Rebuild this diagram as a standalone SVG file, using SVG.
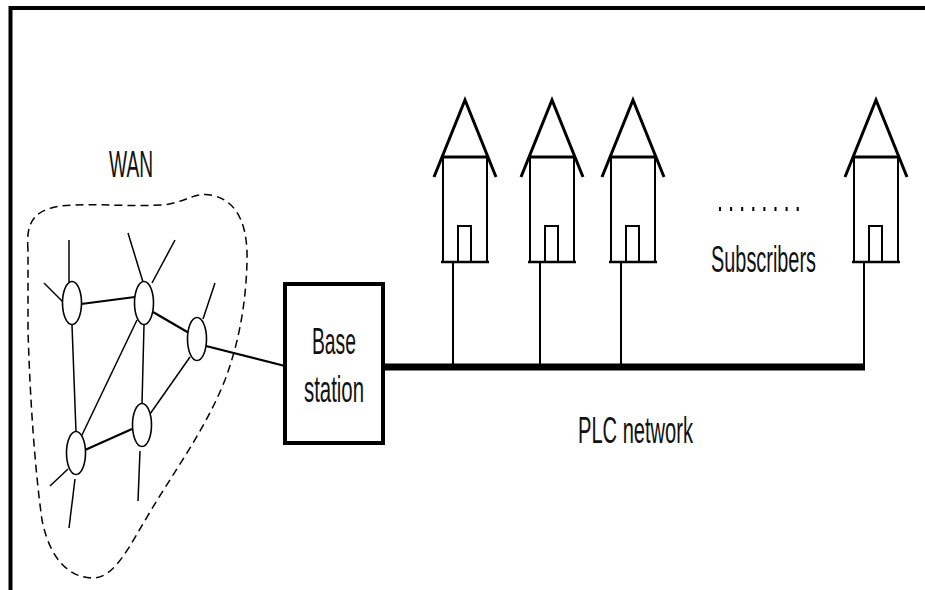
<svg xmlns="http://www.w3.org/2000/svg" width="925" height="590" viewBox="0 0 925 590">
<style>
.lbl{font-family:"Liberation Sans",Arial,sans-serif;font-size:37px;fill:#111}
.node{fill:#fff;stroke:#000;stroke-width:1.6}
.e{stroke:#000;stroke-width:1.5;fill:none}
.e2{stroke:#000;stroke-width:2.2;fill:none}
.roof{fill:none;stroke:#000;stroke-width:3;stroke-linejoin:miter}
.body{fill:none;stroke:#000;stroke-width:2}
</style>
<defs>
<g id="house">
<polyline class="roof" points="434,177 465,100 496,177"/>
<line x1="442" y1="157" x2="488" y2="157" stroke="#000" stroke-width="3"/>
<polyline class="body" points="443,157 443,262 487,262 487,157"/>
<line x1="441" y1="262" x2="489" y2="262" stroke="#000" stroke-width="2.5"/>
<polyline class="body" points="458,262 458,226 471,226 471,262"/>
<line x1="453" y1="262" x2="453" y2="367" stroke="#000" stroke-width="2"/>
</g>
</defs>
<rect width="925" height="590" fill="#fff"/>
<g id="frame">
<line x1="10.5" y1="8" x2="925" y2="8" stroke="#000" stroke-width="4"/>
<line x1="10.5" y1="6" x2="10.5" y2="590" stroke="#000" stroke-width="4"/>
</g>
<g id="wan">
<path d="M28,250 C26,225 32,212 55,207 C80,202 120,207 160,205 C185,204 195,190 215,196 C240,203 248,230 247,262 C246,300 240,340 225,380 C205,430 175,470 150,512 C130,545 115,578 93,578 C70,578 50,560 42,520 C35,470 30,400 28,330 Z" fill="none" stroke="#000" stroke-width="1.5" stroke-dasharray="8 5"/>
<text class="lbl" x="109" y="177" textLength="44" lengthAdjust="spacingAndGlyphs">WAN</text>
</g>
<g id="connectors">
<line class="e2" x1="81" y1="304" x2="135" y2="297"/>
<line class="e2" x1="153" y1="312" x2="189" y2="333"/>
<line class="e2" x1="206" y1="346" x2="285" y2="366"/>
<line class="e" x1="72" y1="325" x2="76" y2="432"/>
<line class="e" x1="137" y1="320" x2="82" y2="435"/>
<line class="e" x1="144" y1="325" x2="142" y2="404"/>
<line class="e" x1="150" y1="414" x2="190" y2="357"/>
<line class="e2" x1="85" y1="450" x2="132" y2="429"/>
<line class="e" x1="69" y1="240" x2="69" y2="282"/>
<line class="e" x1="44" y1="283" x2="63" y2="302"/>
<line class="e" x1="128" y1="233" x2="143" y2="282"/>
<line class="e" x1="175" y1="240" x2="152" y2="283"/>
<line class="e" x1="215" y1="283" x2="203" y2="319"/>
<line class="e" x1="50" y1="486" x2="68" y2="469"/>
<line class="e" x1="75" y1="479" x2="69" y2="528"/>
<line class="e" x1="140" y1="451" x2="138" y2="501"/>
<line x1="383" y1="367" x2="865" y2="367" stroke="#000" stroke-width="7"/>
</g>
<g id="wan-nodes">
<ellipse id="n1" class="node" cx="72" cy="303" rx="9.5" ry="21.5"/>
<ellipse id="n2" class="node" cx="144" cy="303" rx="9.5" ry="21.5"/>
<ellipse id="n3" class="node" cx="197" cy="339" rx="9.5" ry="21.5"/>
<ellipse id="n4" class="node" cx="142" cy="425" rx="9.5" ry="21.5"/>
<ellipse id="n5" class="node" cx="76" cy="453" rx="9.5" ry="21.5"/>
</g>
<g id="base-station">
<rect x="285" y="284" width="98" height="159" fill="#fff" stroke="#000" stroke-width="4"/>
<text class="lbl" x="312" y="354" textLength="44" lengthAdjust="spacingAndGlyphs">Base</text>
<text class="lbl" x="304" y="402" textLength="60" lengthAdjust="spacingAndGlyphs">station</text>
</g>
<g id="house1"><use href="#house"/></g>
<g id="house2"><use href="#house" transform="translate(87,0)"/></g>
<g id="house3"><use href="#house" transform="translate(168,0)"/></g>
<g id="house4"><use href="#house" transform="translate(411,0)"/></g>
<g id="subscribers">
<line x1="719" y1="209" x2="801" y2="209" stroke="#000" stroke-width="4" stroke-dasharray="2 9.1"/>
<text class="lbl" x="711" y="272" textLength="105" lengthAdjust="spacingAndGlyphs">Subscribers</text>
</g>
<g id="plc">
<text class="lbl" x="578" y="443" textLength="115" lengthAdjust="spacingAndGlyphs">PLC network</text>
</g>
</svg>
